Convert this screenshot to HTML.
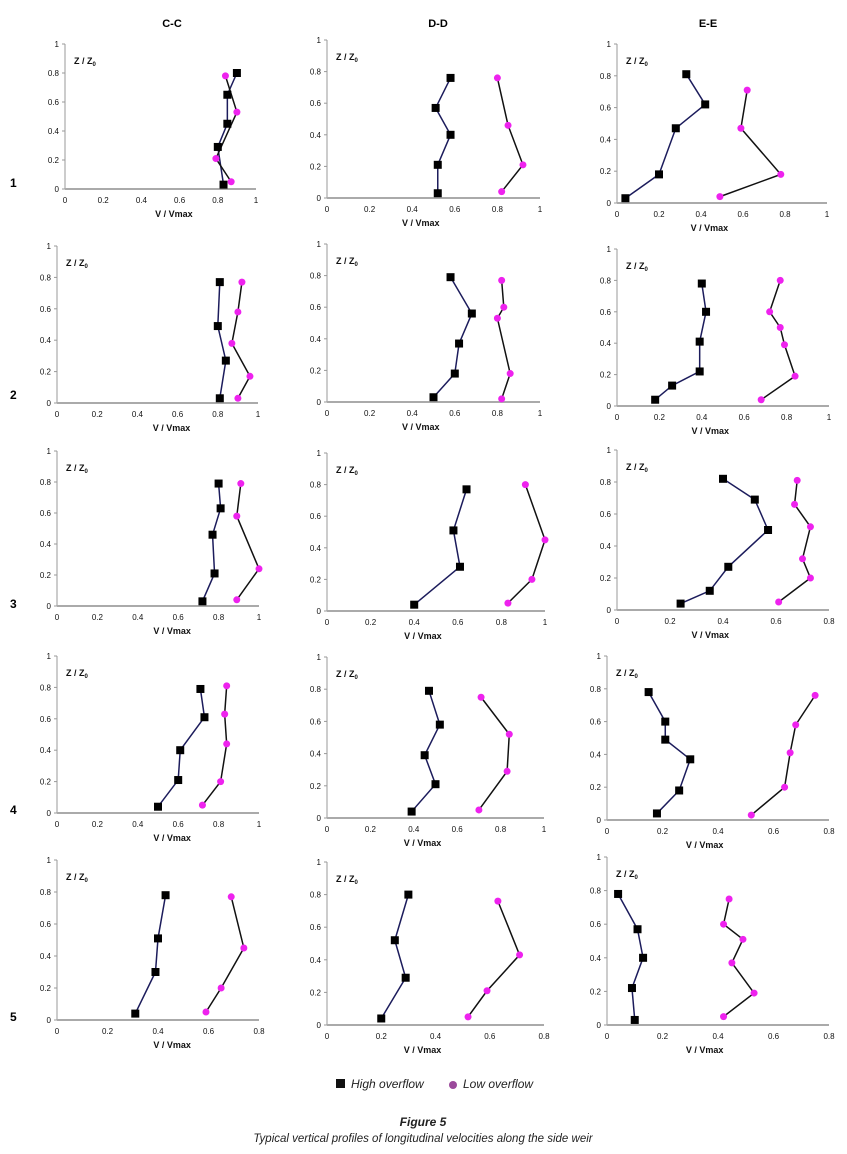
<!DOCTYPE html>
<html><head><meta charset="utf-8"><style>
html,body{margin:0;padding:0;background:#fff;}
svg{display:block;font-family:"Liberation Sans",sans-serif;}
.tick{font-size:8px;fill:#111;}
.lab{font-size:9px;font-weight:bold;fill:#111;}
</style></head><body>
<svg id="fig" width="847" height="1154" viewBox="0 0 847 1154">
<text x="172" y="27" text-anchor="middle" font-size="11" font-weight="bold">C-C</text>
<text x="438" y="27" text-anchor="middle" font-size="11" font-weight="bold">D-D</text>
<text x="708" y="27" text-anchor="middle" font-size="11" font-weight="bold">E-E</text>
<text x="10" y="187" font-size="12" font-weight="bold">1</text>
<text x="10" y="399" font-size="12" font-weight="bold">2</text>
<text x="10" y="608" font-size="12" font-weight="bold">3</text>
<text x="10" y="814" font-size="12" font-weight="bold">4</text>
<text x="10" y="1021" font-size="12" font-weight="bold">5</text>
<g>
<rect x="336" y="1079" width="9" height="9" fill="#111"/>
<text x="351" y="1088" font-size="12" font-style="italic" fill="#222">High overflow</text>
<circle cx="453" cy="1085" r="4" fill="#9b4a9b"/>
<text x="463" y="1088" font-size="12" font-style="italic" fill="#222">Low overflow</text>
</g>
<text x="423" y="1126" text-anchor="middle" font-size="12" font-weight="bold" font-style="italic" fill="#222">Figure 5</text>
<text x="423" y="1142" text-anchor="middle" font-size="11.5" font-style="italic" fill="#222">Typical vertical profiles of longitudinal velocities along the side weir</text>
</svg>
<script>
const highV = [
 [0.83,0.80,0.85,0.85,0.90],[0.52,0.52,0.58,0.51,0.58],[0.04,0.20,0.28,0.42,0.33],
 [0.81,0.84,0.80,0.81],[0.50,0.60,0.62,0.68,0.58],[0.18,0.26,0.39,0.39,0.42,0.40],
 [0.72,0.78,0.77,0.81,0.80],[0.40,0.61,0.58,0.64],[0.24,0.35,0.42,0.57,0.52,0.40],
 [0.50,0.60,0.61,0.73,0.71],[0.39,0.50,0.45,0.52,0.47],[0.18,0.26,0.30,0.21,0.21,0.15],
 [0.31,0.39,0.40,0.43],[0.20,0.29,0.25,0.30],[0.10,0.09,0.13,0.11,0.04]
];
const highZ = [
 [0.03,0.29,0.45,0.65,0.80],[0.03,0.21,0.40,0.57,0.76],[0.03,0.18,0.47,0.62,0.81],
 [0.03,0.27,0.49,0.77],[0.03,0.18,0.37,0.56,0.79],[0.04,0.13,0.22,0.41,0.60,0.78],
 [0.03,0.21,0.46,0.63,0.79],[0.04,0.28,0.51,0.77],[0.04,0.12,0.27,0.50,0.69,0.82],
 [0.04,0.21,0.40,0.61,0.79],[0.04,0.21,0.39,0.58,0.79],[0.04,0.18,0.37,0.49,0.60,0.78],
 [0.04,0.30,0.51,0.78],[0.04,0.29,0.52,0.80],[0.03,0.22,0.40,0.57,0.78]
];
const lowV = [
 [0.87,0.79,0.90,0.84],[0.82,0.92,0.85,0.80],[0.49,0.78,0.59,0.62],
 [0.90,0.96,0.87,0.90,0.92],[0.82,0.86,0.80,0.83,0.82],[0.68,0.84,0.79,0.77,0.72,0.77],
 [0.89,1.00,0.89,0.91],[0.83,0.94,1.00,0.91],[0.61,0.73,0.70,0.73,0.67,0.68],
 [0.72,0.81,0.84,0.83,0.84],[0.70,0.83,0.84,0.71],[0.52,0.64,0.66,0.68,0.75],
 [0.59,0.65,0.74,0.69],[0.52,0.59,0.71,0.63],[0.42,0.53,0.45,0.49,0.42,0.44]
];
const lowZ = [
 [0.05,0.21,0.53,0.78],[0.04,0.21,0.46,0.76],[0.04,0.18,0.47,0.71],
 [0.03,0.17,0.38,0.58,0.77],[0.02,0.18,0.53,0.60,0.77],[0.04,0.19,0.39,0.50,0.60,0.80],
 [0.04,0.24,0.58,0.79],[0.05,0.20,0.45,0.80],[0.05,0.20,0.32,0.52,0.66,0.81],
 [0.05,0.20,0.44,0.63,0.81],[0.05,0.29,0.52,0.75],[0.03,0.20,0.41,0.58,0.76],
 [0.05,0.20,0.45,0.77],[0.05,0.21,0.43,0.76],[0.05,0.19,0.37,0.51,0.60,0.75]
];
const xMaxVals = [1,1,1, 1,1,1, 1,1,0.8, 1,1,0.8, 0.8,0.8,0.8];
const xTickLabels1 = ["0","0.2","0.4","0.6","0.8","1"];
const xTickLabels08 = ["0","0.2","0.4","0.6","0.8"];
const yTickLabels = ["0","0.2","0.4","0.6","0.8","1"];
const geom = [
 [65,256,189,44],[327,540,198,40],[617,827,203,44],
 [57,258,403,246],[327,540,402,244],[617,829,406,249],
 [57,259,606,451],[327,545,611,453],[617,829,610,450],
 [57,259,813,656],[327,544,818,657],[607,829,820,656],
 [57,259,1020,860],[327,544,1025,862],[607,829,1025,857]
];
const NS="http://www.w3.org/2000/svg";
const svg=document.getElementById('fig');
function mk(tag,attrs,parent){const e=document.createElementNS(NS,tag);for(const k in attrs)e.setAttribute(k,attrs[k]);parent.appendChild(e);return e;}
for(let p=0;p<15;p++){
 const [xl,xr,yb,yt]=geom[p];const xm=xMaxVals[p];
 const sx=v=>xl+(v/xm)*(xr-xl); const sy=z=>yb-z*(yb-yt);
 const g=mk('g',{},svg);
 
 
 const ya=mk('line',{x1:xl,y1:yt,x2:xl,y2:yb,stroke:'#999','stroke-width':1},g);
 
 
 const xa=mk('line',{x1:xl,y1:yb,x2:xr,y2:yb,stroke:'#aaa','stroke-width':2},g);
 
 
 yTickLabels.forEach((t,i)=>{const z=i*0.2;
  mk('line',{x1:xl-3,y1:sy(z),x2:xl,y2:sy(z),stroke:'#999'},g);
  const tx=mk('text',{x:xl-6,y:sy(z)+3,'text-anchor':'end',class:'tick'},g);tx.textContent=t;
  
  });
 const xl_=xm===1?xTickLabels1:xTickLabels08;
 xl_.forEach((t,i)=>{const v=i*0.2;
  const tx=mk('text',{x:sx(v),y:yb+14,'text-anchor':'middle',class:'tick'},g);tx.textContent=t;
  
  });
 const xt=mk('text',{x:(p%3===0?xl+(xr-xl)*0.57:xl+(xr-xl)*0.44),y:yb+28,'text-anchor':'middle',class:'lab'},g);xt.textContent='V / Vmax';
 
 
 const yt_=mk('text',{x:xl+9,y:yt+20,class:'lab'},g);yt_.innerHTML='Z / Z<tspan font-size="6" dy="2">0</tspan>';
 
 
 const hp=highV[p].map((v,i)=>sx(v)+','+sy(highZ[p][i])).join(' ');
 const hl=mk('polyline',{points:hp,fill:'none',stroke:'#1c1c5c','stroke-width':1.5},g);
 
 
 const lp=lowV[p].map((v,i)=>sx(v)+','+sy(lowZ[p][i])).join(' ');
 const ll=mk('polyline',{points:lp,fill:'none',stroke:'#111','stroke-width':1.5},g);
 
 
 highV[p].forEach((v,i)=>{const r=mk('rect',{x:sx(v)-4,y:sy(highZ[p][i])-4,width:8,height:8,fill:'#000'},g);
  
  });
 lowV[p].forEach((v,i)=>{const c=mk('circle',{cx:sx(v),cy:sy(lowZ[p][i]),r:3.5,fill:'#ee22ee'},g);
  
  });
}
</script>
</body></html>
